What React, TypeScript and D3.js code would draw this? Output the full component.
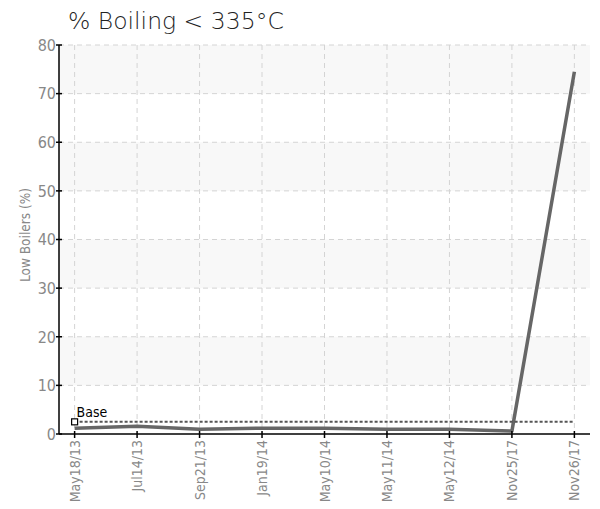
import React from "react";
import * as d3 from "d3";

const categories = ["May18/13", "Jul14/13", "Sep21/13", "Jan19/14", "May10/14", "May11/14", "May12/14", "Nov25/17", "Nov26/17"];
const values = [1.2, 1.6, 1.0, 1.2, 1.2, 1.0, 1.0, 0.6, 74.5];
const baseValue = 2.5;
const yTicks = [0, 10, 20, 30, 40, 50, 60, 70, 80];

const W = 600, H = 509;
const left = 59, right = 590, top = 45, bottom = 434;

export default function App() {
  const x = d3.scalePoint<string>().domain(categories).range([left, right]).padding(0.25);
  const y = d3.scaleLinear().domain([0, 80]).range([bottom, top]);
  const line = d3.line<number>().x((_, i) => x(categories[i])!).y((d) => y(d));
  const narrow = "'DejaVu Sans Condensed', 'DejaVu Sans', sans-serif";
  const narrowStyle = { fontStretch: "condensed" as const };
  const bands = yTicks.slice(0, -1).filter((t) => (t / 10) % 2 === 1);
  return (
    <svg width={W} height={H} style={{ position: "absolute", left: 0, top: 0, background: "#fff" }}>
      <text x={68} y={29} fontFamily="'DejaVu Sans', sans-serif" fontWeight={300} fontSize={23.5} fill="#222">% Boiling &lt; 335°C</text>
      {bands.map((t) => (
        <rect key={t} x={left} y={y(t + 10)} width={right - left} height={y(t) - y(t + 10)} fill="#f8f8f8" />
      ))}
      {yTicks.slice(1).map((t) => (
        <line key={"h" + t} x1={left} x2={right} y1={y(t)} y2={y(t)} stroke="#d4d4d4" strokeDasharray="5,4" />
      ))}
      {categories.map((c) => (
        <line key={"v" + c} x1={x(c)} x2={x(c)} y1={top} y2={bottom} stroke="#d4d4d4" strokeDasharray="5,4" />
      ))}
      <path d={line(values)!} fill="none" stroke="#666" strokeWidth={3.5} strokeLinejoin="round" />
      <line x1={x(categories[0])} x2={x(categories[categories.length - 1])} y1={y(baseValue)} y2={y(baseValue)} stroke="#555" strokeWidth={2} strokeDasharray="3,2" />
      <rect x={x(categories[0])! - 3} y={y(baseValue) - 3} width={6} height={6} fill="#fff" stroke="#000" strokeWidth={1.2} />
      <text x={x(categories[0])! + 2} y={y(baseValue) - 5} fontFamily={narrow} style={narrowStyle} fontSize={14} fill="#000">Base</text>
      <line x1={left} x2={left} y1={top} y2={bottom} stroke="#000" strokeWidth={1.5} />
      <line x1={left} x2={right} y1={bottom} y2={bottom} stroke="#000" strokeWidth={1.5} />
      {yTicks.map((t) => (
        <g key={"yt" + t}>
          <line x1={left - 3} x2={left + 3} y1={y(t)} y2={y(t)} stroke="#000" strokeWidth={1.5} />
          <text x={left - 3} y={y(t)} dy="0.36em" textAnchor="end" fontFamily={narrow} style={narrowStyle} fontSize={16} fill="#888">{t}</text>
        </g>
      ))}
      {categories.map((c) => (
        <g key={"xt" + c}>
          <line x1={x(c)} x2={x(c)} y1={bottom - 3} y2={bottom + 4} stroke="#000" strokeWidth={1.5} />
          <text transform={`translate(${x(c)! + 5},${bottom + 6}) rotate(-90)`} textAnchor="end" fontFamily={narrow} style={narrowStyle} fontSize={14} fill="#888">{c}</text>
        </g>
      ))}
      <text transform={`translate(30,${235}) rotate(-90)`} textAnchor="middle" fontFamily={narrow} style={narrowStyle} fontSize={13.5} fill="#888">Low Boilers (%)</text>
    </svg>
  );
}
